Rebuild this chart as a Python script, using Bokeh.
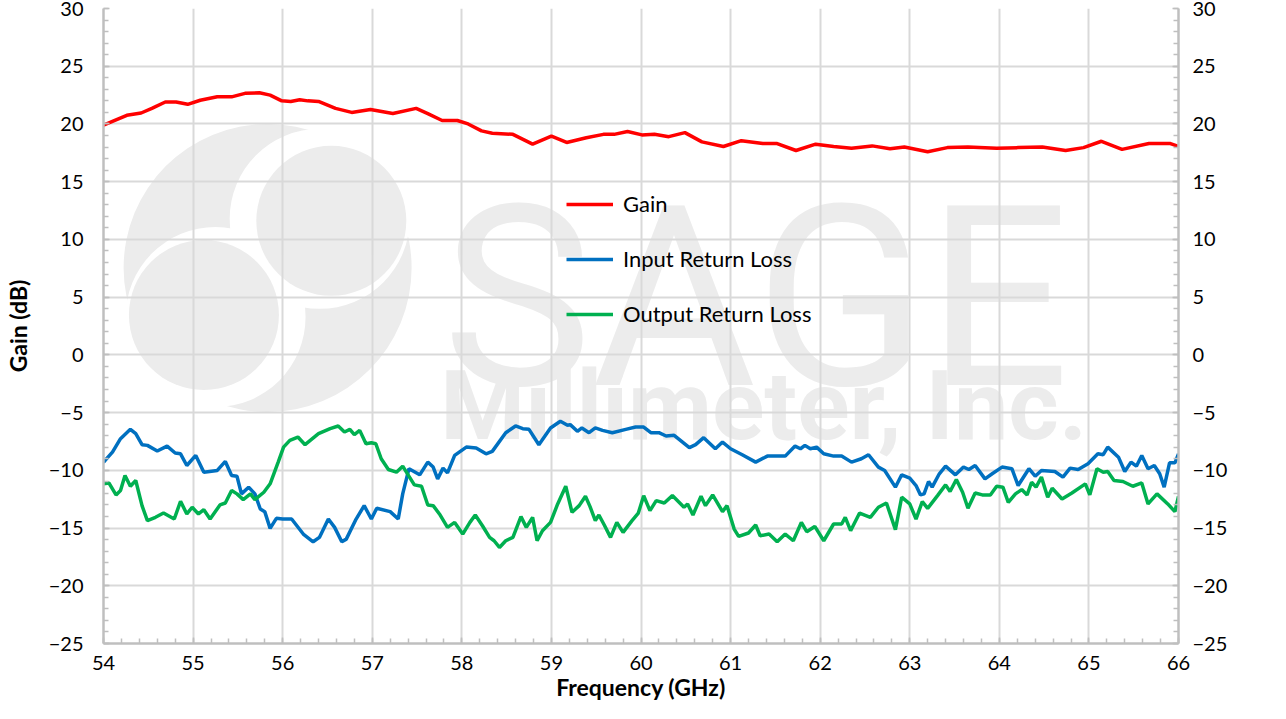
import math
from bokeh.plotting import figure
from bokeh.models import LinearAxis, Range1d, FixedTicker, Legend, LegendItem, Label
from bokeh.core.properties import value
from bokeh.embed import file_html
from bokeh.resources import INLINE

# ---------------- data ----------------
gain_freq = [54.0, 54.08, 54.26, 54.42, 54.54, 54.69, 54.81, 54.94, 55.08, 55.27, 55.43, 55.58, 55.74, 55.86,
             55.99, 56.09, 56.19, 56.28, 56.4, 56.59, 56.77, 56.98, 57.23, 57.49, 57.62, 57.78, 57.95, 58.07,
             58.22, 58.34, 58.57, 58.79, 59.0, 59.17, 59.39, 59.58, 59.7, 59.85, 60.01, 60.15, 60.31, 60.49,
             60.68, 60.92, 61.12, 61.36, 61.52, 61.73, 61.95, 62.15, 62.35, 62.58, 62.78, 62.94, 63.2, 63.42,
             63.65, 63.97, 64.21, 64.48, 64.74, 64.94, 65.14, 65.37, 65.67, 65.91, 66.0]
gain_db = [19.9, 20.15, 20.75, 20.95, 21.35, 21.9, 21.9, 21.7, 22.05, 22.35, 22.35, 22.65, 22.7, 22.5,
           22.0, 21.95, 22.1, 22.0, 21.95, 21.35, 21.0, 21.25, 20.9, 21.35, 20.9, 20.3, 20.3, 20.0,
           19.4, 19.2, 19.1, 18.25, 18.95, 18.4, 18.8, 19.1, 19.1, 19.35, 19.05, 19.1, 18.9, 19.25,
           18.45, 18.05, 18.55, 18.3, 18.3, 17.7, 18.25, 18.05, 17.9, 18.1, 17.85, 18.0, 17.6, 17.95,
           18.0, 17.9, 17.95, 18.0, 17.7, 17.95, 18.5, 17.8, 18.3, 18.3, 18.05]

irl_freq = [54.0, 54.04, 54.1, 54.19, 54.3, 54.36, 54.43, 54.49, 54.6, 54.71, 54.8, 54.86, 54.93, 55.03,
            55.12, 55.27, 55.36, 55.43, 55.49, 55.54, 55.62, 55.69, 55.75, 55.8, 55.86, 55.93, 56.0, 56.1,
            56.23, 56.34, 56.41, 56.51, 56.58, 56.66, 56.71, 56.82, 56.91, 56.99, 57.05, 57.2, 57.29, 57.34,
            57.41, 57.53, 57.62, 57.68, 57.73, 57.79, 57.84, 57.92, 58.05, 58.16, 58.27, 58.34, 58.49, 58.6,
            58.68, 58.75, 58.86, 58.99, 59.1, 59.18, 59.21, 59.29, 59.34, 59.42, 59.49, 59.57, 59.68, 59.83,
            59.94, 60.03, 60.11, 60.2, 60.28, 60.37, 60.54, 60.61, 60.7, 60.83, 60.91, 61.0, 61.13, 61.28,
            61.41, 61.61, 61.72, 61.78, 61.83, 61.89, 61.96, 62.04, 62.15, 62.24, 62.35, 62.46, 62.54, 62.65,
            62.72, 62.84, 62.91, 63.0, 63.07, 63.12, 63.16, 63.21, 63.25, 63.33, 63.4, 63.51, 63.6, 63.66,
            63.73, 63.84, 63.92, 64.03, 64.14, 64.21, 64.33, 64.4, 64.47, 64.62, 64.71, 64.79, 64.88, 64.99,
            65.1, 65.16, 65.21, 65.33, 65.4, 65.47, 65.53, 65.59, 65.66, 65.73, 65.79, 65.84, 65.9, 65.96, 66.0]
irl_db = [-9.3, -8.94, -8.42, -7.26, -6.45, -6.83, -7.78, -7.84, -8.33, -7.9, -8.5, -8.57, -9.58, -8.71,
          -10.16, -10.01, -9.23, -10.45, -10.51, -12.04, -11.46, -12.04, -13.35, -13.58, -15.03, -14.16, -14.22, -14.22,
          -15.52, -16.19, -15.81, -14.22, -14.94, -16.19, -15.96, -14.22, -13.06, -14.22, -13.29, -13.58, -14.22, -12.04,
          -9.86, -10.39, -9.29, -9.72, -10.74, -9.81, -10.22, -8.71, -7.99, -8.07, -8.57, -8.36, -6.74, -6.16,
          -6.39, -6.45, -7.78, -6.33, -5.75, -6.1, -6.04, -6.62, -6.33, -6.74, -6.33, -6.54, -6.74, -6.45,
          -6.25, -6.25, -6.74, -6.74, -7.03, -6.97, -8.04, -7.78, -7.17, -8.13, -7.55, -8.13, -8.65, -9.29,
          -8.77, -8.77, -7.9, -8.13, -7.84, -8.13, -7.99, -8.57, -8.77, -8.77, -9.29, -9.0, -8.65, -9.72,
          -10.01, -11.46, -10.39, -10.68, -11.32, -12.13, -12.04, -10.97, -11.46, -10.3, -9.64, -10.39, -9.72, -9.93,
          -9.58, -10.74, -10.3, -9.72, -9.86, -11.32, -9.86, -10.51, -10.01, -10.1, -10.59, -9.81, -9.93, -9.43,
          -8.57, -8.65, -7.99, -8.86, -10.1, -9.29, -9.64, -8.71, -9.86, -9.58, -10.3, -11.46, -9.35, -9.35, -8.57]

orl_freq = [54.0, 54.06, 54.14, 54.19, 54.24, 54.3, 54.36, 54.43, 54.49, 54.58, 54.67, 54.79, 54.86, 54.93,
            54.99, 55.06, 55.12, 55.19, 55.3, 55.36, 55.43, 55.49, 55.56, 55.64, 55.69, 55.79, 55.86, 55.95,
            56.01, 56.08, 56.17, 56.25, 56.4, 56.53, 56.62, 56.69, 56.75, 56.8, 56.86, 56.93, 56.99, 57.04,
            57.1, 57.18, 57.27, 57.34, 57.4, 57.47, 57.55, 57.62, 57.68, 57.75, 57.84, 57.92, 58.01, 58.09,
            58.15, 58.23, 58.31, 58.36, 58.42, 58.49, 58.57, 58.66, 58.72, 58.79, 58.84, 58.9, 58.99, 59.07,
            59.16, 59.23, 59.31, 59.38, 59.43, 59.49, 59.53, 59.59, 59.66, 59.73, 59.8, 59.9, 59.97, 60.03,
            60.1, 60.17, 60.26, 60.35, 60.48, 60.52, 60.58, 60.67, 60.72, 60.8, 60.91, 60.96, 61.04, 61.09,
            61.2, 61.28, 61.33, 61.43, 61.52, 61.61, 61.7, 61.79, 61.85, 61.94, 62.04, 62.15, 62.24, 62.28,
            62.34, 62.44, 62.56, 62.65, 62.74, 62.84, 62.91, 63.0, 63.07, 63.14, 63.2, 63.31, 63.4, 63.45,
            63.52, 63.59, 63.65, 63.73, 63.81, 63.9, 63.97, 64.04, 64.1, 64.18, 64.25, 64.31, 64.36, 64.41,
            64.47, 64.54, 64.59, 64.7, 64.81, 64.96, 65.01, 65.09, 65.16, 65.21, 65.28, 65.38, 65.49, 65.59,
            65.66, 65.76, 65.88, 65.96, 66.0]
orl_db = [-11.17, -11.09, -12.13, -11.75, -10.45, -11.38, -10.88, -13.06, -14.36, -14.07, -13.7, -14.22, -12.68, -13.78,
          -13.2, -13.78, -13.41, -14.22, -13.0, -12.83, -11.75, -12.04, -12.54, -12.04, -12.54, -11.9, -11.17, -9.29,
          -7.99, -7.41, -7.12, -7.78, -6.83, -6.39, -6.16, -6.68, -6.45, -6.91, -6.54, -7.7, -7.61, -7.7,
          -9.0, -9.93, -10.16, -9.64, -10.39, -11.26, -11.38, -13.0, -13.06, -13.78, -14.94, -14.51, -15.52, -14.51,
          -13.87, -14.8, -15.81, -16.1, -16.68, -16.1, -15.81, -14.01, -14.94, -14.07, -16.1, -15.23, -14.51, -12.91,
          -11.38, -13.64, -13.06, -12.25, -13.12, -14.36, -13.87, -14.74, -15.81, -14.51, -15.38, -14.36, -13.7, -12.2,
          -13.49, -12.62, -12.83, -12.19, -13.2, -12.91, -13.87, -12.25, -13.06, -12.13, -13.58, -13.06, -15.09, -15.72,
          -15.43, -14.74, -15.67, -15.52, -16.19, -15.52, -16.1, -14.51, -15.32, -14.86, -16.1, -14.65, -14.65, -14.07,
          -15.23, -13.7, -14.07, -13.2, -12.83, -15.14, -12.33, -12.91, -14.22, -12.71, -13.29, -12.19, -11.26, -11.84,
          -10.8, -11.9, -13.29, -11.96, -12.13, -12.13, -11.38, -11.46, -12.77, -12.04, -11.67, -12.13, -11.03, -11.46,
          -10.59, -12.33, -11.55, -12.48, -11.96, -11.17, -12.13, -9.86, -10.16, -10.1, -10.88, -10.97, -11.38, -11.09,
          -12.91, -12.04, -12.91, -13.58, -12.25]

x_ticks = list(range(54, 67))
y_ticks = list(range(-25, 31, 5))
series_names = ["Gain", "Input Return Loss", "Output Return Loss"]

# ---------------- figure ----------------
FONT = "Lato"
GRID = "#d9d9d9"
AXC = "#bfbfbf"

p = figure(width=1270, height=703, output_backend="svg", toolbar_location=None,
           x_range=Range1d(54, 66), y_range=Range1d(-25, 30),
           min_border_left=94, min_border_right=92, min_border_top=8, min_border_bottom=59,
           background_fill_color="white", border_fill_color="white")
p.outline_line_color = None
p.extra_y_ranges = {"rl": Range1d(-25, 30)}

# watermark logo (drawn beneath grid)
wm = "#ececec"
p.scatter(x=[55.832], y=[7.53], size=288, marker="circle", fill_color=wm, line_color=None, level="image")
p.scatter(x=[56.413, 55.251], y=[11.78, 3.28], size=180, marker="circle", fill_color="white", line_color=None, level="image")
p.scatter(x=[56.543, 55.121], y=[11.61, 3.45], size=150, marker="circle", fill_color=wm, line_color=None, level="image")
p.text(x=[57.78], y=[4.84], text=["SAGE"], text_font=value("Roboto"), text_font_size="252px",
       text_color=wm, text_baseline="alphabetic", text_align="left", level="image")
p.text(x=[57.76], y=[-4.44], text=["Millimeter, Inc."], text_font=value("Roboto"), text_font_size="97px",
       text_font_style="bold", text_color=wm, text_baseline="alphabetic", text_align="left", level="image")

xt = FixedTicker(ticks=x_ticks, minor_ticks=[54 + i * 0.2 for i in range(61)])
yt = FixedTicker(ticks=y_ticks, minor_ticks=list(range(-25, 31)))

p.xaxis.ticker = xt
p.yaxis.ticker = yt
p.xgrid.ticker = xt
p.ygrid.ticker = yt
for g in (p.xgrid, p.ygrid):
    g.grid_line_color = GRID
    g.grid_line_width = 2

r_gain = p.line(gain_freq, gain_db, line_color="#ff0000", line_width=3.5)
r_irl = p.line(irl_freq, irl_db, line_color="#0070c0", line_width=3.5, y_range_name="rl")
r_orl = p.line(orl_freq, orl_db, line_color="#00b050", line_width=3.5, y_range_name="rl")

right = LinearAxis(y_range_name="rl", ticker=yt)
p.add_layout(right, "right")


def style_axis(ax, standoff):
    ax.axis_line_color = AXC
    ax.axis_line_width = 2.5
    ax.major_tick_in = 6
    ax.major_tick_out = 0
    ax.minor_tick_in = 5
    ax.minor_tick_out = 0
    ax.major_tick_line_color = AXC
    ax.minor_tick_line_color = AXC
    ax.major_tick_line_width = 1.5
    ax.minor_tick_line_width = 1.5
    ax.major_label_text_font = FONT
    ax.major_label_text_font_size = "20px"
    ax.major_label_text_color = "#000000"
    ax.major_label_standoff = standoff
    ax.axis_label_text_font = FONT
    ax.axis_label_text_font_size = "23px"
    ax.axis_label_text_font_style = "bold"
    ax.axis_label_text_color = "#000000"


style_axis(p.xaxis[0], 12)
style_axis(p.yaxis[0], 20)
style_axis(right, 14)
p.xaxis[0].axis_label = "Frequency (GHz)"
p.xaxis[0].axis_label_standoff = 0
p.yaxis[0].axis_label = "Gain (dB)"
p.yaxis[0].axis_label_standoff = 14

p.add_layout(Label(x=66.87, y=2.5, text="Return Loss (dB)", angle=math.pi / 2,
                   text_font=FONT, text_font_size="23px", text_font_style="bold",
                   text_color="#000000", text_align="center", text_baseline="middle"))

legend = Legend(items=[LegendItem(label=series_names[0], renderers=[r_gain]),
                       LegendItem(label=series_names[1], renderers=[r_irl]),
                       LegendItem(label=series_names[2], renderers=[r_orl])],
                location=(463, 316), orientation="vertical")
legend.border_line_color = None
legend.background_fill_alpha = 0
legend.padding = 0
legend.margin = 0
legend.spacing = 28
legend.glyph_width = 47
legend.glyph_height = 20
legend.label_height = 20
legend.label_standoff = 10
legend.label_text_font = FONT
legend.label_text_font_size = "22px"
legend.label_text_color = "#000000"
p.add_layout(legend, "center")

open("out.html", "w").write(file_html(p, INLINE))
